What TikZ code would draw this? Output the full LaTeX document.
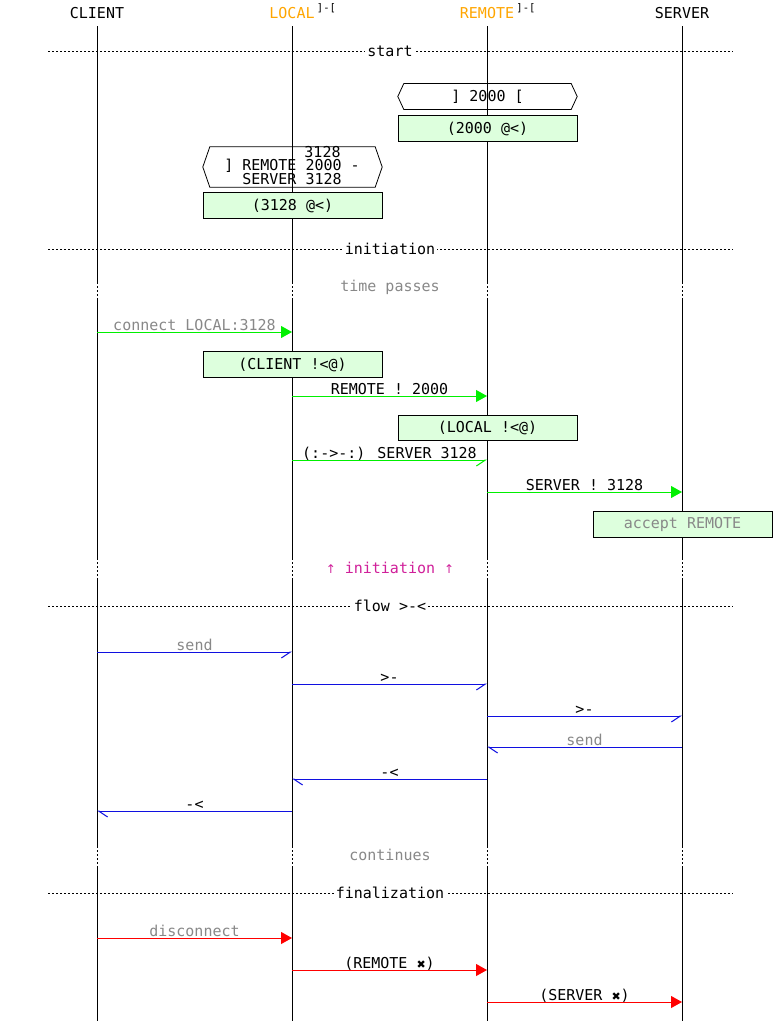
\documentclass[tikz,border=0pt]{standalone}
\usepackage{fontspec}
\setmainfont{DejaVu Sans Mono}
\newfontfamily\symfont{DejaVu Sans}
\usetikzlibrary{arrows.meta}
\definecolor{boxgreen}{HTML}{DDFFDD}
\definecolor{lgreen}{HTML}{00F000}
\definecolor{mblue}{HTML}{1010E0}
\definecolor{mred}{HTML}{FF0000}
\definecolor{hdrorange}{HTML}{FFA500}
\definecolor{txtgray}{HTML}{888888}
\definecolor{magent}{HTML}{D0209A}
\begin{document}
\begin{tikzpicture}[x=1pt,y=-1pt,
  font=\fontsize{15}{17}\selectfont,
  life/.style={line width=1pt,black},
  gapline/.style={line width=1pt,black,dash pattern=on 2pt off 2pt},
  sepline/.style={line width=1pt,black,dash pattern=on 2pt off 2pt},
  seplabel/.style={fill=white,inner sep=2pt},
  hdr/.style={anchor=base,inner sep=0pt},
  supr/.style={anchor=base west,inner sep=0pt,font=\fontsize{10.5}{12}\selectfont},
  notebox/.style={draw,line width=0.8pt,fill=boxgreen,minimum width=179pt,minimum height=25.5pt,inner sep=0pt},
  hexnode/.style={minimum width=179pt,inner sep=0pt},
  hexline/.style={line width=0.8pt,black},
  msglabel/.style={anchor=base,yshift=2pt,inner sep=0pt},
  gaptext/.style={inner sep=0pt},
  greenfull/.style={draw=lgreen,line width=1pt,-{Triangle[length=11pt,width=12pt,fill=lgreen]}},
  greenhalf/.style={draw=lgreen,line width=1pt,-{Straight Barb[harpoon,swap,length=9pt,width=12pt]}},
  bluer/.style={draw=mblue,line width=1pt,-{Straight Barb[harpoon,swap,length=9pt,width=12pt]}},
  bluel/.style={draw=mblue,line width=1pt,-{Straight Barb[harpoon,length=9pt,width=12pt]}},
  redfull/.style={draw=mred,line width=1pt,-{Triangle[length=11pt,width=12pt,fill=mred]}},
]
\useasboundingbox (0,0) rectangle (780,1021);

% lifelines
\foreach \x in {97,292,487,682} {
  \draw[life] (\x,26) -- (\x,282);
  \draw[gapline] (\x,282) -- (\x,300);
  \draw[life] (\x,300) -- (\x,558);
  \draw[gapline] (\x,558) -- (\x,580);
  \draw[life] (\x,580) -- (\x,846);
  \draw[gapline] (\x,846) -- (\x,868);
  \draw[life] (\x,868) -- (\x,1021);
}

% headers
\node[hdr] (hC) at (97,18.5) {CLIENT};
\node[hdr,text=hdrorange] (hL) at (292,18.5) {LOCAL};
\node[supr] (hLs) at ([xshift=2pt,yshift=7pt]hL.base east) {]-[};
\node[hdr,text=hdrorange] (hR) at (487,18.5) {REMOTE};
\node[supr] (hRs) at ([xshift=2pt,yshift=7pt]hR.base east) {]-[};
\node[hdr] (hS) at (682,18.5) {SERVER};

% separators
\coordinate (s1a) at (48,51);  \coordinate (s1b) at (733,51);
\coordinate (s2a) at (48,249); \coordinate (s2b) at (733,249);
\coordinate (s3a) at (48,606); \coordinate (s3b) at (733,606);
\coordinate (s4a) at (48,893); \coordinate (s4b) at (733,893);
\draw[sepline] (s1a) -- (s1b);
\draw[sepline] (s2a) -- (s2b);
\draw[sepline] (s3a) -- (s3b);
\draw[sepline] (s4a) -- (s4b);
\node[seplabel] (t1) at (390,51) {start};
\node[seplabel] (t2) at (390,249) {initiation};
\node[seplabel] (t3) at (390,606) {flow >-<};
\node[seplabel] (t4) at (390,893) {finalization};

% hexagon 1
\node[hexnode,minimum height=25.5pt] (x1) at (487.5,96.5) {] 2000 [};
\draw[hexline] (x1.west) -- ([xshift=6pt]x1.north west) -- ([xshift=-6pt]x1.north east)
  -- (x1.east) -- ([xshift=-6pt]x1.south east) -- ([xshift=6pt]x1.south west) -- cycle;
\node[notebox] (n1) at (487.5,128.5) {(2000 @<)};

% hexagon 2
\node[gaptext,anchor=base] (x2a) at (322.5,157) {3128};
\node[gaptext,anchor=base] (x2b) at (292,170.5) {] REMOTE 2000 -};
\node[gaptext,anchor=base] (x2c) at (292,184) {SERVER 3128};
\node[hexnode,minimum height=40pt] (x2) at (292.5,167) {};
\draw[hexline] (x2.west) -- ([xshift=7pt]x2.north west) -- ([xshift=-7pt]x2.north east)
  -- (x2.east) -- ([xshift=-7pt]x2.south east) -- ([xshift=7pt]x2.south west) -- cycle;
\node[notebox] (n2) at (292.5,205.5) {(3128 @<)};

% gap texts
\node[gaptext,text=txtgray] (g1) at (390,287) {time passes};
\node[gaptext,text=magent] (g2) at (390,568) {{\symfont\fontsize{12}{14}\selectfont↑} initiation {\symfont\fontsize{12}{14}\selectfont↑}};
\node[gaptext,text=txtgray] (g3) at (390,855) {continues};

% initiation messages
\coordinate (m1a) at (97,332);  \coordinate (m1b) at (292,332);
\draw[greenfull] (m1a) -- node[msglabel,text=txtgray] {connect LOCAL:3128} (m1b);
\node[notebox] (n3) at (292.5,364.5) {(CLIENT !<@)};
\coordinate (m2a) at (292,396); \coordinate (m2b) at (487,396);
\draw[greenfull] (m2a) -- node[msglabel] {REMOTE ! 2000} (m2b);
\node[notebox] (n4) at (487.5,428) {(LOCAL !<@)};
\coordinate (m3a) at (292,460); \coordinate (m3b) at (487,460);
\draw[greenhalf] (m3a) -- node[msglabel] {(:->-:) SERVER 3128} (m3b);
\coordinate (m4a) at (487,492); \coordinate (m4b) at (682,492);
\draw[greenfull] (m4a) -- node[msglabel] {SERVER ! 3128} (m4b);
\node[notebox,text=txtgray] (n5) at (682.5,524.5) {accept REMOTE};

% flow messages
\coordinate (f1a) at (97,652);  \coordinate (f1b) at (292,652);
\draw[bluer] (f1a) -- node[msglabel,text=txtgray] {send} (f1b);
\coordinate (f2a) at (292,684); \coordinate (f2b) at (487,684);
\draw[bluer] (f2a) -- node[msglabel] {>-} (f2b);
\coordinate (f3a) at (487,716); \coordinate (f3b) at (682,716);
\draw[bluer] (f3a) -- node[msglabel] {>-} (f3b);
\coordinate (f4a) at (682,747); \coordinate (f4b) at (487,747);
\draw[bluel] (f4a) -- node[msglabel,text=txtgray] {send} (f4b);
\coordinate (f5a) at (487,779); \coordinate (f5b) at (292,779);
\draw[bluel] (f5a) -- node[msglabel] {-<} (f5b);
\coordinate (f6a) at (292,811); \coordinate (f6b) at (97,811);
\draw[bluel] (f6a) -- node[msglabel] {-<} (f6b);

% finalization messages
\coordinate (d1a) at (97,938);  \coordinate (d1b) at (292,938);
\draw[redfull] (d1a) -- node[msglabel,text=txtgray] {disconnect} (d1b);
\coordinate (d2a) at (292,970); \coordinate (d2b) at (487,970);
\draw[redfull] (d2a) -- node[msglabel] {(REMOTE {\symfont\fontsize{11}{13}\selectfont ✖})} (d2b);
\coordinate (d3a) at (487,1002); \coordinate (d3b) at (682,1002);
\draw[redfull] (d3a) -- node[msglabel] {(SERVER {\symfont\fontsize{11}{13}\selectfont ✖})} (d3b);
\end{tikzpicture}
\end{document}
